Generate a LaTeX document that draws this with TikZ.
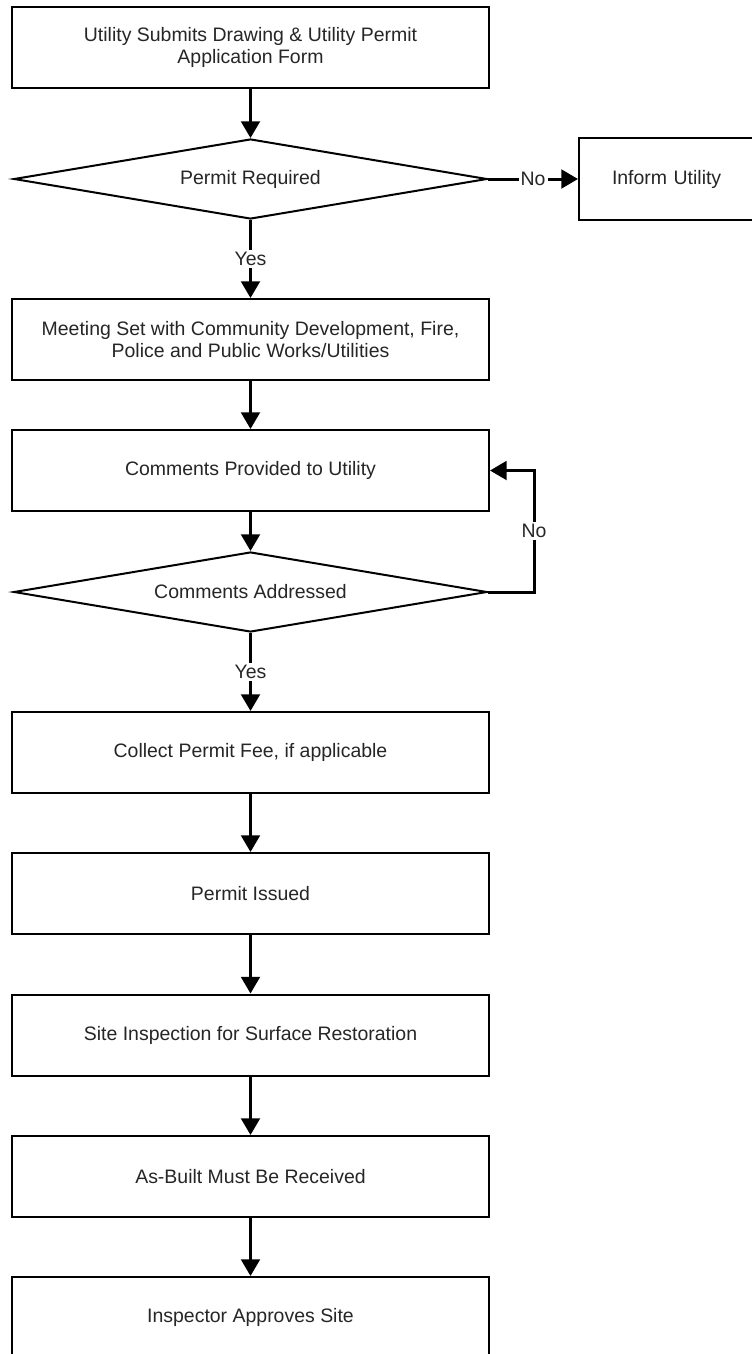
\documentclass[tikz,border=0pt]{standalone}
\usepackage{fontspec}
\setmainfont{Liberation Sans}
\usetikzlibrary{shapes.geometric,arrows.meta}
\begin{document}
\begin{tikzpicture}[x=0.75pt,y=-0.75pt,
  txt/.style={font=\fontsize{14.6}{16.5}\selectfont, text=black!85},
  stepbox/.style={txt, draw, line width=1.5pt, rectangle, minimum width=357.75pt,
    minimum height=60.75pt, align=center, inner sep=0pt},
  decision/.style={txt, draw, line width=1.5pt, diamond, shape aspect=5.8,
    minimum width=355pt, minimum height=60pt, inner sep=0pt},
  flow/.style={line width=2.25pt, -{Triangle[width=14pt,length=12.5pt]}},
  lbl/.style={txt, fill=white, inner sep=1.5pt}]

% page frame
\fill[white] (0,0) rectangle (752,1354);
\useasboundingbox (0,0) rectangle (752,1354);
\clip (0,0) rectangle (752,1354);

% process boxes and decisions
\node[stepbox] (submit) at (250.5,47.5) {Utility Submits Drawing \& Utility Permit\\Application Form};
\node[decision] (req) at (250.5,179) {Permit Required};
\node[txt, draw, line width=1.5pt, anchor=west, minimum height=61.5pt,
      text width=117pt, inner xsep=24.75pt, align=left] (inform) at (578,179) {Inform Utility};
\node[stepbox] (meet) at (250.5,339.5) {Meeting Set with Community Development, Fire,\\Police and Public Works/Utilities};
\node[stepbox] (comments) at (250.5,470.5) {Comments Provided to Utility};
\node[decision] (addr) at (250.5,592) {Comments Addressed};
\node[stepbox] (fee) at (250.5,752.5) {Collect Permit Fee, if applicable};
\node[stepbox] (issued) at (250.5,893.5) {Permit Issued};
\node[stepbox] (site) at (250.5,1035) {Site Inspection for Surface Restoration};
\node[stepbox] (asbuilt) at (250.5,1176.5) {As-Built Must Be Received};
\node[stepbox] (approve) at (250.5,1317.5) {Inspector Approves Site};

% loop-back corners
\coordinate (bendlo) at (534,592);
\coordinate (bendhi) at (534,470.5);

% connectors
\draw[flow] (submit) -- (req);
\draw[flow] (req.east) -- node[lbl] {No} (inform.west);
\draw[flow] (req.south) -- node[lbl] {Yes} (meet.north);
\draw[flow] (meet) -- (comments);
\draw[flow] (comments) -- (addr);
\draw[flow] (addr.east) -- (bendlo) -- node[lbl] {No} (bendhi) -- (comments.east);
\draw[flow] (addr.south) -- node[lbl] {Yes} (fee.north);
\draw[flow] (fee) -- (issued);
\draw[flow] (issued) -- (site);
\draw[flow] (site) -- (asbuilt);
\draw[flow] (asbuilt) -- (approve);
\end{tikzpicture}
\end{document}
